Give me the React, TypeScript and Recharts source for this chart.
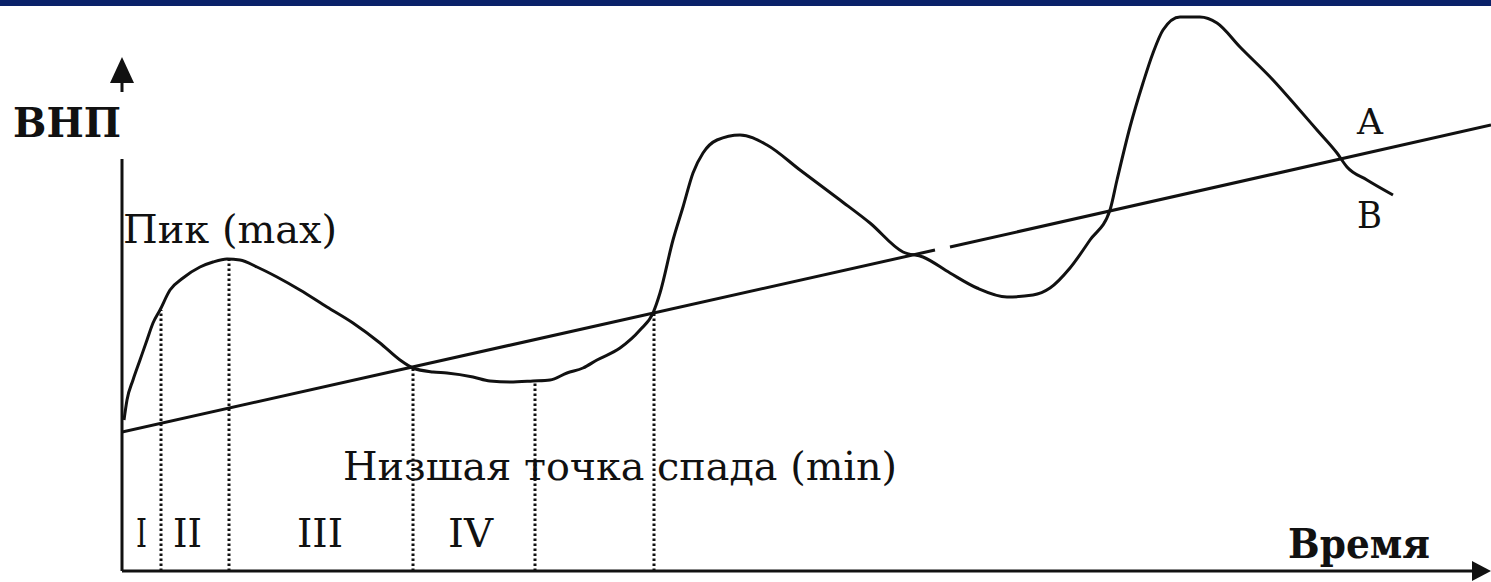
import React from 'react'
import { ComposedChart, Line, XAxis, YAxis, ReferenceLine } from 'recharts'

// business cycle curve: time -> GNP
const cycleTime = [
  0.2, 0.5, 1.1, 1.8, 2.5, 3.1, 3.8, 4.8, 6.1, 7.8, 9.1, 10.5, 11.8, 13.5, 15.5, 17.8, 20.5, 23.1, 25.8, 27.8,
  29.1, 31.1, 32.5, 35.1, 36.8, 38.8, 41.1, 42.8, 44.5, 46.1, 47.5, 49.8, 51.8, 53.1, 53.8, 55.1, 56.1, 57.1,
  58.1, 59.5, 61.8, 64.5, 67.8, 71.8, 74.8, 78.1, 80.1, 82.8, 85.5, 88.5, 91.1, 92.8, 94.8, 96.8, 98.8, 99.5,
  100.8, 102.1, 103.1, 104.1, 105.8, 107.8, 109.5, 111.8, 115.1, 117.5, 119.5, 121.5, 122.5, 124.5, 127.1,
]
const cycleGnp = [
  30.2, 34.2, 38.2, 42.2, 46.2, 49.6, 52.2, 56.2, 58.6, 60.8, 61.8, 62.4, 62.2, 60.8, 58.8, 56.2, 52.8, 49.6, 45.6, 42.2,
  40.6, 39.8, 39.6, 38.8, 38.0, 37.8, 38.0, 38.2, 39.6, 40.6, 42.2, 44.6, 48.2, 51.6, 55.6, 66.2, 72.8, 79.6,
  83.6, 86.2, 87.2, 85.2, 80.2, 74.2, 69.6, 63.8, 62.8, 59.6, 56.6, 54.8, 55.2, 56.6, 60.6, 66.2, 72.2, 78.2,
  88.8, 97.6, 103.6, 108.2, 110.8, 110.8, 109.6, 104.8, 98.2, 92.8, 88.2, 83.6, 80.8, 78.2, 75.2,
]

// long-run trend, drawn in two pieces (small gap in the original)
const trendTimeA = [0, 81.3]
const trendGnpA = [27.8, 64.2]
const trendTimeB = [82.8, 136.9]
const trendGnpB = [64.8, 89.2]

// phase boundaries (dotted verticals)
const phaseTime = [3.9, 10.7, 29.1, 41.3, 53.2]
const phaseTop = [52.2, 62.4, 40.6, 38.0, 51.6]

const phaseLabels = ['I', 'II', 'III', 'IV']

const cycleData = cycleTime.map((t, i) => ({ t, v: cycleGnp[i] }))
const trendDataA = trendTimeA.map((t, i) => ({ t, v: trendGnpA[i] }))
const trendDataB = trendTimeB.map((t, i) => ({ t, v: trendGnpB[i] }))

const ink = '#111'
const serif = '"DejaVu Serif", "Liberation Serif", serif'

export default function App() {
  const labelX = [136, 173, 297, 448]
  const labelW = [11, 29, 46, 45]

  return (
    <div style={{ position: 'absolute', left: 0, top: 0, width: 1491, height: 582, background: '#fff', overflow: 'hidden' }}>
      <div style={{ position: 'absolute', left: 0, top: 0, width: 1491, height: 6, background: '#0a2169' }} />
      <ComposedChart width={1491} height={582} margin={{ top: 0, right: 0, bottom: 11, left: 122 }}>
        <XAxis type="number" dataKey="t" domain={[0, 136.9]} allowDataOverflow hide />
        <YAxis type="number" domain={[0, 114.2]} allowDataOverflow hide />
        <ReferenceLine segment={[{ x: 0, y: 0 }, { x: 135.8, y: 0 }]} stroke={ink} strokeWidth={3} ifOverflow="visible" />
        <ReferenceLine segment={[{ x: 0, y: 0 }, { x: 0, y: 82.4 }]} stroke={ink} strokeWidth={3} ifOverflow="visible" />
        {phaseTime.map((t, i) => (
          <ReferenceLine
            key={i}
            segment={[{ x: t, y: 0 }, { x: t, y: phaseTop[i] }]}
            stroke={ink}
            strokeWidth={3}
            strokeDasharray="2.5 2.5"
            ifOverflow="visible"
          />
        ))}
        <Line data={trendDataA} dataKey="v" type="linear" stroke={ink} strokeWidth={3} dot={false} isAnimationActive={false} />
        <Line data={trendDataB} dataKey="v" type="linear" stroke={ink} strokeWidth={3} dot={false} isAnimationActive={false} />
        <Line data={cycleData} dataKey="v" type="monotone" stroke={ink} strokeWidth={3} dot={false} isAnimationActive={false} />
      </ComposedChart>
      <svg width={1491} height={582} style={{ position: 'absolute', left: 0, top: 0, pointerEvents: 'none' }}>
        {/* axis arrows */}
        <polygon points="122,57 110,83 134,83" fill={ink} />
        <line x1={122} y1={80} x2={122} y2={92} stroke={ink} strokeWidth={3} />
        <polygon points="1491,571 1472,561 1472,581" fill={ink} />

        <g fontFamily={serif} fill={ink}>
          <text x={13} y={137} fontSize={41} fontWeight="bold" textLength={108} lengthAdjust="spacingAndGlyphs">ВНП</text>
          <text x={1288} y={558} fontSize={41} fontWeight="bold" textLength={142} lengthAdjust="spacingAndGlyphs">Время</text>
          <text x={123} y={243} fontSize={40} textLength={214} lengthAdjust="spacingAndGlyphs">Пик (max)</text>
          <text x={343} y={480} fontSize={40} textLength={554} lengthAdjust="spacingAndGlyphs">Низшая точка спада (min)</text>
          <text x={1357} y={134} fontSize={36} textLength={26} lengthAdjust="spacingAndGlyphs">A</text>
          <text x={1357} y={228} fontSize={38} textLength={25} lengthAdjust="spacingAndGlyphs">B</text>
          {phaseLabels.map((s, i) => (
            <text key={s} x={labelX[i]} y={547} fontSize={40} textLength={labelW[i]} lengthAdjust="spacingAndGlyphs">{s}</text>
          ))}
        </g>
      </svg>
    </div>
  )
}
